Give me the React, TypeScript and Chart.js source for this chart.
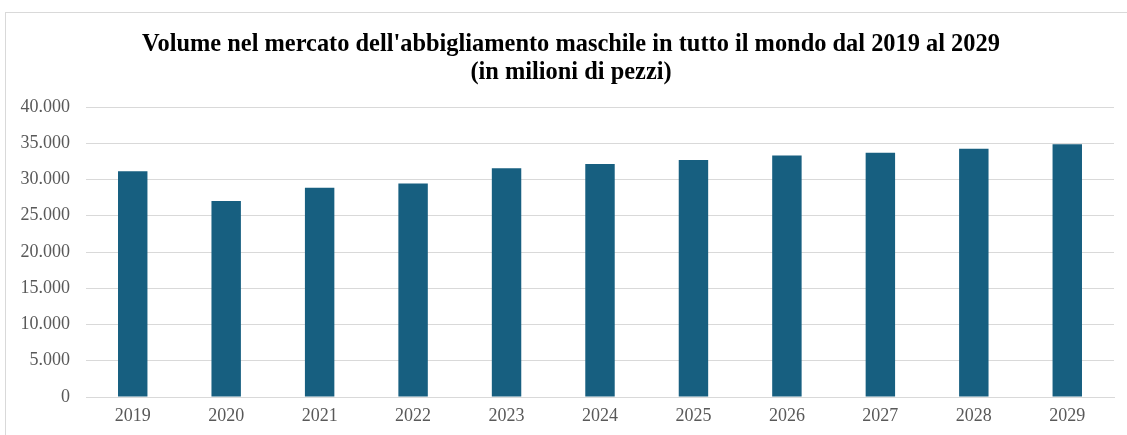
import React, { useEffect, useRef } from "react";
import { Chart, registerables } from "chart.js";

Chart.register(...registerables);

const titleLines = [
  "Volume nel mercato dell'abbigliamento maschile in tutto il mondo dal 2019 al 2029",
  "(in milioni di pezzi)",
];
const categories = ["2019", "2020", "2021", "2022", "2023", "2024", "2025", "2026", "2027", "2028", "2029"];
const volumes = [31150, 27050, 28850, 29450, 31550, 32150, 32700, 33300, 33700, 34250, 34850];
const yTicks = [0, 5000, 10000, 15000, 20000, 25000, 30000, 35000, 40000];

const fmt = (v: number) => v.toString().replace(/\B(?=(\d{3})+(?!\d))/g, ".");

const shiftTitle = {
  id: "shiftTitle",
  afterLayout(chart: any) {
    const t = chart.titleBlock;
    if (t) {
      t.left = t.left + 28;
    }
  },
};

export default function App() {
  const ref = useRef<HTMLCanvasElement | null>(null);
  useEffect(() => {
    if (!ref.current) return;
    const chart = new Chart(ref.current, {
      type: "bar",
      data: {
        labels: categories,
        datasets: [
          {
            data: volumes,
            backgroundColor: "#175f80",
            borderWidth: 0,
            categoryPercentage: 1,
            barPercentage: 0.315,
          },
        ],
      },
      options: {
        animation: false,
        responsive: false,
        maintainAspectRatio: false,
        layout: { padding: { top: 12, left: 0, right: 13, bottom: 0 } },
        plugins: {
          legend: { display: false },
          tooltip: { enabled: false },
          title: {
            display: true,
            text: titleLines,
            color: "#000000",
            font: { family: "'Liberation Serif', 'Times New Roman', serif", size: 24.4, weight: "bold", lineHeight: 28 / 24.4 },
            padding: { top: 19, bottom: 20 },
          },
        },
        scales: {
          x: {
            grid: { display: false, drawTicks: false },
            border: { display: true, color: "#d9d9d9", width: 1 },
            ticks: {
              color: "#595959",
              font: { family: "'Liberation Serif', 'Times New Roman', serif", size: 18 },
              padding: 8,
            },
            afterFit: (s: any) => {
              s.height = 38;
            },
          },
          y: {
            min: 0,
            max: 40000,
            afterBuildTicks: (s: any) => {
              s.ticks = yTicks.map((v) => ({ value: v }));
            },
            grid: { color: "#d9d9d9", lineWidth: 1, drawTicks: false },
            border: { display: false },
            ticks: {
              color: "#595959",
              font: { family: "'Liberation Serif', 'Times New Roman', serif", size: 18 },
              padding: 16,
              callback: (v: any) => fmt(Number(v)),
            },
            afterFit: (s: any) => {
              s.width = 86;
            },
          },
        },
      },
      plugins: [shiftTitle],
    });
    return () => chart.destroy();
  }, []);
  return (
    <div style={{ position: "fixed", left: 0, top: 0, width: 1127, height: 435, background: "#fff" }}>
      <canvas ref={ref} width={1127} height={435} style={{ position: "absolute", left: 0, top: 0, width: 1127, height: 435 }} />
      <div
        style={{
          position: "absolute",
          left: 5,
          top: 12,
          width: 1122,
          height: 430,
          borderTop: "1px solid #d9d9d9",
          borderLeft: "1px solid #d9d9d9",
          pointerEvents: "none",
        }}
      />
    </div>
  );
}
